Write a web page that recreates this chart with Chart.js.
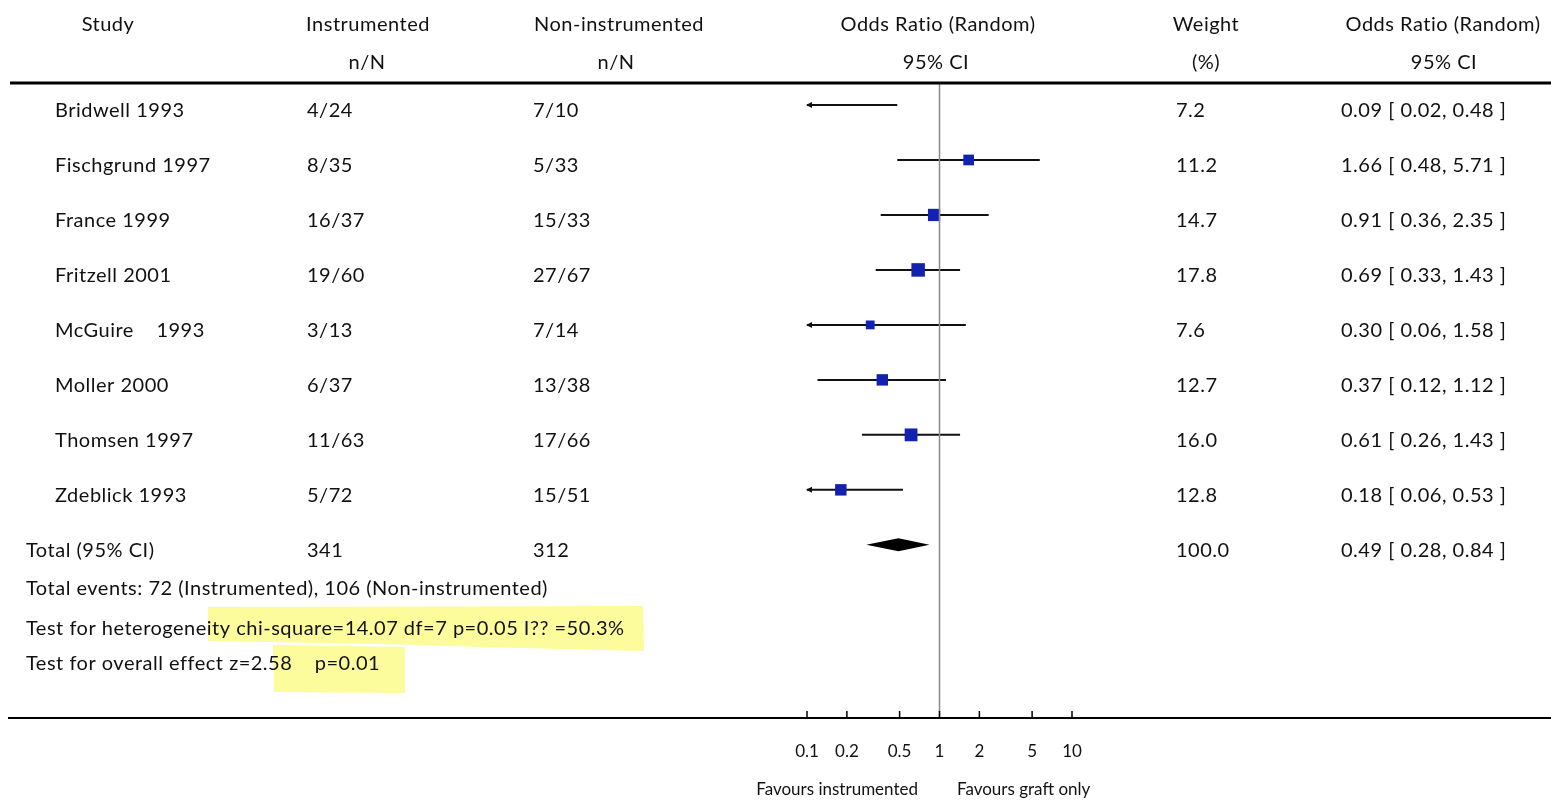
<!DOCTYPE html>
<html><head><meta charset="utf-8">
<script src="https://cdn.jsdelivr.net/npm/chart.js@4"></script>
<style>html,body{margin:0;padding:0;background:#fff;overflow:hidden}</style>
</head><body>
<canvas id="c" width="1551" height="801"></canvas>
<script>
// ---- data ----
const studies = ['Bridwell 1993','Fischgrund 1997','France 1999','Fritzell 2001','McGuire    1993','Moller 2000','Thomsen 1997','Zdeblick 1993'];
const instrumented = ['4/24','8/35','16/37','19/60','3/13','6/37','11/63','5/72'];
const nonInstrumented = ['7/10','5/33','15/33','27/67','7/14','13/38','17/66','15/51'];
const oddsRatio = [0.09,1.66,0.91,0.69,0.30,0.37,0.61,0.18];
const ciLow = [0.02,0.48,0.36,0.33,0.06,0.12,0.26,0.06];
const ciHigh = [0.48,5.71,2.35,1.43,1.58,1.12,1.43,0.53];
const weights = [7.2,11.2,14.7,17.8,7.6,12.7,16.0,12.8];
const weightLabels = ['7.2','11.2','14.7','17.8','7.6','12.7','16.0','12.8'];
const orLabels = ['0.09 [ 0.02, 0.48 ]','1.66 [ 0.48, 5.71 ]','0.91 [ 0.36, 2.35 ]','0.69 [ 0.33, 1.43 ]','0.30 [ 0.06, 1.58 ]','0.37 [ 0.12, 1.12 ]','0.61 [ 0.26, 1.43 ]','0.18 [ 0.06, 0.53 ]'];
const totalRow = ['Total (95% CI)','341','312','100.0','0.49 [ 0.28, 0.84 ]'];
const totalOR = [0.28, 0.49, 0.84];
const footnotes = ['Total events: 72 (Instrumented), 106 (Non-instrumented)','Test for heterogeneity chi-square=14.07 df=7 p=0.05 I?? =50.3%','Test for overall effect z=2.58    p=0.01'];
const tickValues = [0.1,0.2,0.5,1,2,5,10];
const tickLabels = ['0.1','0.2','0.5','1','2','5','10'];
const favourLabels = ['Favours instrumented','Favours graft only'];
const xMin = 0.1, xMax = 10;

const FONT = 'Lato, "Open Sans", sans-serif';
const FS = 20;
const BLUE = '#1122b0';

const datasets = [];
studies.forEach((s, i) => {
  datasets.push({type:'line', data:[{x:ciLow[i], y:i},{x:ciHigh[i], y:i}], borderColor:'#111', borderWidth:2, pointRadius:0, order:2});
});
const sqRadius = ctx => { const i = ctx.dataIndex; if (oddsRatio[i] < xMin) return 0; return 3.2*Math.sqrt(weights[i]) / Math.SQRT2; };
datasets.push({
  type:'scatter',
  data: oddsRatio.map((v,i)=>({x:v, y:i})),
  pointStyle:'rect',
  pointRadius: sqRadius, pointHoverRadius: sqRadius,
  backgroundColor: BLUE, borderColor: BLUE, borderWidth: 0, order:1
});

const tablePlugin = {
  id:'table',
  beforeDraw(chart) {
    const c = chart.ctx;
    c.save();
    c.fillStyle = '#fdfc9c';
    c.beginPath();
    c.moveTo(208,607); c.lineTo(643,606); c.lineTo(644,651); c.lineTo(520,648); c.lineTo(380,644); c.lineTo(208,641); c.closePath(); c.fill();
    c.beginPath();
    c.moveTo(273,645); c.lineTo(405,647); c.lineTo(405,693); c.lineTo(274,692); c.closePath(); c.fill();
    c.restore();
  },
  afterDraw(chart) {
    const c = chart.ctx, xs = chart.scales.x, ys = chart.scales.y, a = chart.chartArea;
    c.save();
    c.strokeStyle = '#8a8a8a'; c.lineWidth = 1.5;
    const x1 = xs.getPixelForValue(1);
    c.beginPath(); c.moveTo(x1, a.top); c.lineTo(x1, a.bottom); c.stroke();
    c.strokeStyle = '#000'; c.lineWidth = 3;
    c.beginPath(); c.moveTo(10, a.top); c.lineTo(1551, a.top); c.stroke();
    c.lineWidth = 2;
    c.beginPath(); c.moveTo(8, a.bottom); c.lineTo(1551, a.bottom); c.stroke();
    c.lineWidth = 1.5;
    tickValues.forEach(v => { const px = xs.getPixelForValue(v); c.beginPath(); c.moveTo(px, a.bottom-7); c.lineTo(px, a.bottom); c.stroke(); });
    c.fillStyle = '#111';
    studies.forEach((s,i) => {
      const y = ys.getPixelForValue(i);
      if (ciLow[i] < xMin) { const px = a.left - 1; c.beginPath(); c.moveTo(px, y); c.lineTo(px+6, y-3); c.lineTo(px+6, y+3); c.closePath(); c.fill(); }
      if (ciHigh[i] > xMax) { const px = a.right + 1; c.beginPath(); c.moveTo(px, y); c.lineTo(px-6, y-3); c.lineTo(px-6, y+3); c.closePath(); c.fill(); }
    });
    const yt = ys.getPixelForValue(studies.length);
    c.fillStyle = '#000';
    c.beginPath();
    c.moveTo(xs.getPixelForValue(totalOR[0]), yt);
    c.lineTo(xs.getPixelForValue(totalOR[1]), yt-6.5);
    c.lineTo(xs.getPixelForValue(totalOR[2]), yt);
    c.lineTo(xs.getPixelForValue(totalOR[1]), yt+6.5);
    c.closePath(); c.fill();
    c.fillStyle = '#111';
    c.font = FS + 'px ' + FONT;
    if ('letterSpacing' in c) c.letterSpacing = '0.5px';
    c.textBaseline = 'middle';
    c.textAlign = 'center';
    c.fillText('Study', 108, 25);
    c.fillText('Instrumented', 368, 25); c.fillText('n/N', 367, 63);
    c.fillText('Non-instrumented', 619, 25); c.fillText('n/N', 616, 63);
    c.fillText('Odds Ratio (Random)', 938, 25); c.fillText('95% CI', 936, 63);
    c.fillText('Weight', 1206, 25); c.fillText('(%)', 1206, 63);
    c.fillText('Odds Ratio (Random)', 1443, 25); c.fillText('95% CI', 1444, 63);
    c.textAlign = 'left';
    studies.forEach((s,i) => {
      const y = ys.getPixelForValue(i) + 6;
      c.fillText(s, 55, y);
      c.fillText(instrumented[i], 307, y);
      c.fillText(nonInstrumented[i], 533, y);
      c.fillText(weightLabels[i], 1176, y);
      c.fillText(orLabels[i], 1341, y);
    });
    const yT = yt + 6;
    c.fillText(totalRow[0], 26, yT);
    c.fillText(totalRow[1], 307, yT);
    c.fillText(totalRow[2], 533, yT);
    c.fillText(totalRow[3], 1176, yT);
    c.fillText(totalRow[4], 1341, yT);
    c.fillText(footnotes[0], 26, 589);
    c.fillText(footnotes[1], 26, 629);
    c.fillText(footnotes[2], 26, 664);
    c.font = '17px ' + FONT;
    if ('letterSpacing' in c) c.letterSpacing = '0px';
    c.textAlign = 'right'; c.fillText(favourLabels[0], 918, 790);
    c.textAlign = 'left'; c.fillText(favourLabels[1], 957, 790);
    c.restore();
  }
};

new Chart(document.getElementById('c'), {
  data: { datasets },
  options: {
    responsive:false, animation:false, devicePixelRatio:1,
    layout:{ padding:{ left:807, right:479, top:83, bottom:0 } },
    plugins:{ legend:{display:false}, tooltip:{enabled:false} },
    events: [],
    scales:{
      x:{ type:'logarithmic', min:xMin, max:xMax, position:'bottom',
          afterBuildTicks: s => { s.ticks = tickValues.map(v => ({value:v})); },
          afterFit: s => { s.height = 83; },
          grid:{ display:false, drawTicks:false }, border:{ display:false },
          ticks:{ autoSkip:false, maxRotation:0, padding:23, color:'#111', font:{ family:FONT, size:17 },
                  callback: v => { const k = tickValues.findIndex(t => Math.abs(t - v) < 1e-9); return k >= 0 ? tickLabels[k] : ''; } } },
      y:{ type:'linear', reverse:true, min:-0.4, max:11.15, display:false }
    }
  },
  plugins:[tablePlugin]
});
</script>
</body></html>
